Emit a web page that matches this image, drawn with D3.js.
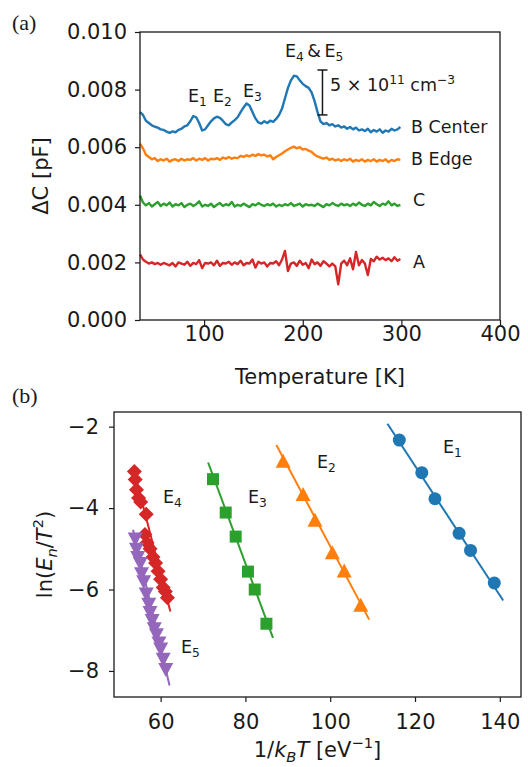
<!DOCTYPE html>
<html><head><meta charset="utf-8">
<script src="https://cdn.jsdelivr.net/npm/d3@7"></script>
<style>
html,body{margin:0;padding:0;background:#fff;}
svg{display:block;font-family:"DejaVu Sans",sans-serif;}
</style></head>
<body><svg id="c" width="528" height="767"></svg>
<script>
// ---------- DATA ----------
// Panel (a): DLTS spectra, temperature grid [K] and ΔC in units of 1e-5 pF
const temps = d3.range(35, 300, 3);
const unitC = 1e-5;
const bCenter = [722,712,692,684,676,671,668,662,660,654,
 650,655,652,660,664,672,676,690,708,704,
 684,658,662,676,690,700,706,702,692,680,
 676,686,694,704,722,738,752,745,722,700,
 686,682,690,684,692,688,698,712,734,770,
 806,832,848,846,832,820,812,806,790,760,
 722,690,680,684,676,680,672,676,668,672,
 664,670,662,668,658,662,656,664,652,660,
 654,662,650,658,654,664,658,662,670];
const bEdge = [612,596,574,566,558,562,552,558,554,560,
 550,556,558,552,560,554,558,556,562,554,
 560,556,562,554,560,558,562,556,564,560,
 566,560,564,562,570,566,572,568,574,570,
 576,572,574,568,572,558,566,572,578,586,
 592,598,602,596,600,592,594,588,584,574,
 568,564,560,564,556,560,554,558,552,558,
 554,560,550,556,552,558,550,556,552,558,
 550,556,552,558,548,556,552,558,556];
const sampleC = [432,408,398,406,394,402,410,396,404,398,
 408,394,402,398,406,392,400,404,396,402,
 412,394,400,396,404,392,400,406,396,402,
 398,410,394,400,396,404,398,392,402,398,
 406,400,396,402,398,404,394,400,396,402,
 398,406,396,400,404,394,402,398,400,396,
 404,398,392,402,398,406,400,396,404,398,
 402,396,404,398,408,400,396,404,398,410,
 402,396,404,400,412,398,404,396,400];
const sampleA = [228,210,202,196,200,194,198,192,198,194,
 190,198,186,200,196,192,202,188,198,194,
 208,180,198,196,200,190,206,188,198,196,
 202,192,200,194,206,190,198,196,210,182,
 202,196,200,186,198,196,204,190,210,240,
 170,196,200,188,206,192,198,180,210,194,
 200,188,204,196,186,196,186,124,196,206,
 190,214,176,236,190,208,196,156,212,204,
 220,210,216,208,214,204,218,206,212];
const seriesA = [
 {name:"B Center", vals:bCenter, color:"#1f77b4"},
 {name:"B Edge", vals:bEdge, color:"#ff7f0e"},
 {name:"C", vals:sampleC, color:"#2ca02c"},
 {name:"A", vals:sampleA, color:"#d62728"}
];
const xTicksA = [100,200,300,400];
const yTicksA = [0,0.002,0.004,0.006,0.008,0.010];
// scale bar (5e11 cm^-3) in data coords
const scaleBarT = 220, scaleBarLo = 0.00712, scaleBarHi = 0.00868;

// Panel (b): Arrhenius plot, x = 1/kT [eV^-1], y = ln(En/T^2)
const e1Pts = [[116.3,-2.33],[121.6,-3.13],[124.7,-3.77],[130.4,-4.62],[133.1,-5.04],[138.7,-5.84]];
const e2Pts = [[88.9,-2.86],[93.6,-3.68],[96.4,-4.31],[100.5,-5.11],[103.3,-5.56],[107.2,-6.40]];
const e3Pts = [[72.35,-3.29],[75.35,-4.11],[77.7,-4.70],[80.6,-5.56],[82.2,-6.0],[84.95,-6.84]];
const e4Pts = [[53.8,-3.1],[54.0,-3.3],[54.3,-3.55],[54.8,-3.75],[55.3,-3.85],[56.6,-4.15],[56.3,-4.65],
 [56.8,-4.85],[57.5,-5.0],[58.2,-5.2],[58.8,-5.35],[59.4,-5.55],[60.0,-5.75],[60.6,-5.95],[61.1,-6.05],[61.6,-6.2]];
const e5Pts = [[54.0,-4.75],[54.3,-5.0],[54.6,-5.2],[55.2,-5.35],[55.5,-5.6],[56.0,-5.8],[56.6,-6.1],[57.2,-6.35],
 [57.5,-6.55],[58.0,-6.75],[58.5,-6.95],[59.0,-7.1],[59.6,-7.3],[60.0,-7.45],[60.6,-7.7],[61.2,-7.95]];
const e1Fit = [[113.5,-1.93],[140.8,-6.27]];
const e2Fit = [[87.3,-2.45],[109.2,-6.74]];
const e3Fit = [[71.2,-2.88],[86.5,-7.19]];
const e4Fit = [[53.5,-3.0],[62.3,-6.54]];
const e5Fit = [[53.5,-4.53],[62.1,-8.36]];
const seriesB = [
 {pts:e1Pts, fit:e1Fit, color:"#1f77b4", marker:"circle"},
 {pts:e2Pts, fit:e2Fit, color:"#ff7f0e", marker:"triUp"},
 {pts:e3Pts, fit:e3Fit, color:"#2ca02c", marker:"square"},
 {pts:e4Pts, fit:e4Fit, color:"#d62728", marker:"diamond"},
 {pts:e5Pts, fit:e5Fit, color:"#9467bd", marker:"triDown"}
];
const xTicksB = [60,80,100,120,140];
const yTicksB = [-2,-4,-6,-8];

// ---------- DRAW ----------
const svg = d3.select("#c");
const ink = "#1a1a1a";
const FS = 21;

function rich(textSel, parts, fs){
  let shift = 0;
  parts.forEach(p=>{
    const t = textSel.append("tspan").text(p.t);
    let target = 0, size = fs;
    if(p.sub){target = fs*0.25; size = fs*0.7;}
    if(p.sup){target = -fs*0.42; size = fs*0.7;}
    t.attr("font-size", size);
    if(target !== shift){ t.attr("dy", target - shift); shift = target; }
    if(p.it) t.attr("font-style","italic");
  });
}

// Panel (a)
const xa = d3.scaleLinear().domain([35,400]).range([140,500]);
const ya = d3.scaleLinear().domain([0,0.010]).range([320,32]);
const gA = svg.append("g");

const line = d3.line().x((d,i)=>xa(temps[i])).y(d=>ya(d*unitC));
seriesA.forEach(s=>{
  gA.append("path").attr("d", line(s.vals)).attr("fill","none")
    .attr("stroke", s.color).attr("stroke-width",2.4).attr("stroke-linejoin","round");
});

function styleAxis(g){
  g.selectAll(".domain").remove();
  g.selectAll(".tick line").attr("stroke",ink).attr("stroke-width",1.2);
  g.selectAll(".tick text").attr("fill",ink).attr("font-size",FS).attr("font-family","DejaVu Sans");
}
gA.append("g").attr("transform","translate(0,320)")
  .call(d3.axisBottom(xa).tickValues(xTicksA).tickSize(5).tickPadding(1).tickFormat(d3.format("d")))
  .call(styleAxis);
gA.append("g").attr("transform","translate(140,0)")
  .call(d3.axisLeft(ya).tickValues(yTicksA).tickSize(5).tickPadding(8).tickFormat(d3.format(".3f")))
  .call(styleAxis);
gA.append("rect").attr("x",140).attr("y",32).attr("width",360).attr("height",288)
  .attr("fill","none").attr("stroke",ink).attr("stroke-width",1.3);

// series names
const nameY = {"B Center":133,"B Edge":165,"C":206,"A":268};
const nameX = {"B Center":411,"B Edge":411,"C":413,"A":413};
seriesA.forEach(s=>{
  gA.append("text").attr("x",nameX[s.name]).attr("y",nameY[s.name]).attr("font-size",17.5)
    .attr("fill",ink).text(s.name);
});
// peak labels
function peak(x,y,parts){ rich(gA.append("text").attr("x",x).attr("y",y).attr("fill",ink), parts, 17.5); }
peak(188,102,[{t:"E"},{t:"1",sub:true}]);
peak(213,102,[{t:"E"},{t:"2",sub:true}]);
peak(243,97,[{t:"E"},{t:"3",sub:true}]);
peak(285,57,[{t:"E"},{t:"4",sub:true},{t:"\u2009&\u2009"},{t:"E"},{t:"5",sub:true}]);
// scale bar
const sbx = xa(scaleBarT);
gA.append("line").attr("x1",sbx).attr("x2",sbx).attr("y1",ya(scaleBarHi)).attr("y2",ya(scaleBarLo)).attr("stroke",ink).attr("stroke-width",1.5);
[scaleBarHi,scaleBarLo].forEach(v=>gA.append("line").attr("x1",sbx-5).attr("x2",sbx+5).attr("y1",ya(v)).attr("y2",ya(v)).attr("stroke",ink).attr("stroke-width",1.5));
rich(gA.append("text").attr("x",330).attr("y",91).attr("fill",ink),
  [{t:"5 × 10"},{t:"11",sup:true},{t:" cm"},{t:"−3",sup:true}], 17.5);

// axis labels (a)
gA.append("text").attr("x",320).attr("y",384).attr("text-anchor","middle").attr("font-size",FS).attr("fill",ink).text("Temperature [K]");
gA.append("text").attr("transform","translate(48,176) rotate(-90)").attr("text-anchor","middle").attr("font-size",FS).attr("fill",ink).text("ΔC [pF]");

// panel letters
svg.append("text").attr("x",12).attr("y",30).attr("font-family","Liberation Serif, serif").attr("font-size",22).attr("fill",ink).text("(a)");
svg.append("text").attr("x",12).attr("y",403).attr("font-family","Liberation Serif, serif").attr("font-size",22).attr("fill",ink).text("(b)");

// Panel (b)
const xb = d3.scaleLinear().domain([49,145]).range([114,521]);
const yb = d3.scaleLinear().domain([-8.64,-1.64]).range([697,412]);
const gB = svg.append("g");

function markerPath(type){
  const p = d3.path();
  if(type==="circle"){ p.arc(0,0,6.5,0,2*Math.PI); }
  else if(type==="square"){ p.rect(-6,-6,12,12); }
  else if(type==="triUp"){ p.moveTo(0,-8); p.lineTo(7.5,6); p.lineTo(-7.5,6); p.closePath(); }
  else if(type==="triDown"){ p.moveTo(0,8); p.lineTo(7.5,-6); p.lineTo(-7.5,-6); p.closePath(); }
  else if(type==="diamond"){ p.moveTo(0,-7.5); p.lineTo(7.5,0); p.lineTo(0,7.5); p.lineTo(-7.5,0); p.closePath(); }
  return p.toString();
}
const lineB = d3.line().x(d=>xb(d[0])).y(d=>yb(d[1]));
seriesB.forEach(s=>{
  gB.append("path").attr("d",lineB(s.fit)).attr("stroke",s.color).attr("stroke-width",2).attr("fill","none");
  gB.selectAll(null).data(s.pts).enter().append("path")
    .attr("d",markerPath(s.marker))
    .attr("transform",d=>`translate(${xb(d[0])},${yb(d[1])})`)
    .attr("fill",s.color);
});
gB.append("g").attr("transform","translate(0,697)")
  .call(d3.axisBottom(xb).tickValues(xTicksB).tickSize(5).tickPadding(12).tickFormat(d3.format("d")))
  .call(styleAxis);
gB.append("g").attr("transform","translate(114,0)")
  .call(d3.axisLeft(yb).tickValues(yTicksB).tickSize(5).tickPadding(10).tickFormat(d3.format("d")))
  .call(styleAxis);
gB.append("rect").attr("x",114).attr("y",412).attr("width",407).attr("height",285)
  .attr("fill","none").attr("stroke",ink).attr("stroke-width",1.3);

function lab(x,y,n){ rich(gB.append("text").attr("x",x).attr("y",y).attr("fill",ink), [{t:"E"},{t:n,sub:true}], 17.5); }
lab(443,453,"1"); lab(317,468,"2"); lab(248,503,"3"); lab(163,503,"4"); lab(181,653,"5");

const xlb = gB.append("text").attr("x",317.5).attr("y",757).attr("text-anchor","middle").attr("fill",ink);
rich(xlb,[{t:"1/"},{t:"k",it:true},{t:"B",sub:true,it:true},{t:"T",it:true},{t:" [eV"},{t:"−1",sup:true},{t:"]"}],FS);
const ylb = gB.append("text").attr("transform","translate(52,554.5) rotate(-90)").attr("text-anchor","middle").attr("fill",ink);
rich(ylb,[{t:"ln("},{t:"E",it:true},{t:"n",sub:true,it:true},{t:"/"},{t:"T",it:true},{t:"2",sup:true},{t:")"}],FS);
</script></body></html>
